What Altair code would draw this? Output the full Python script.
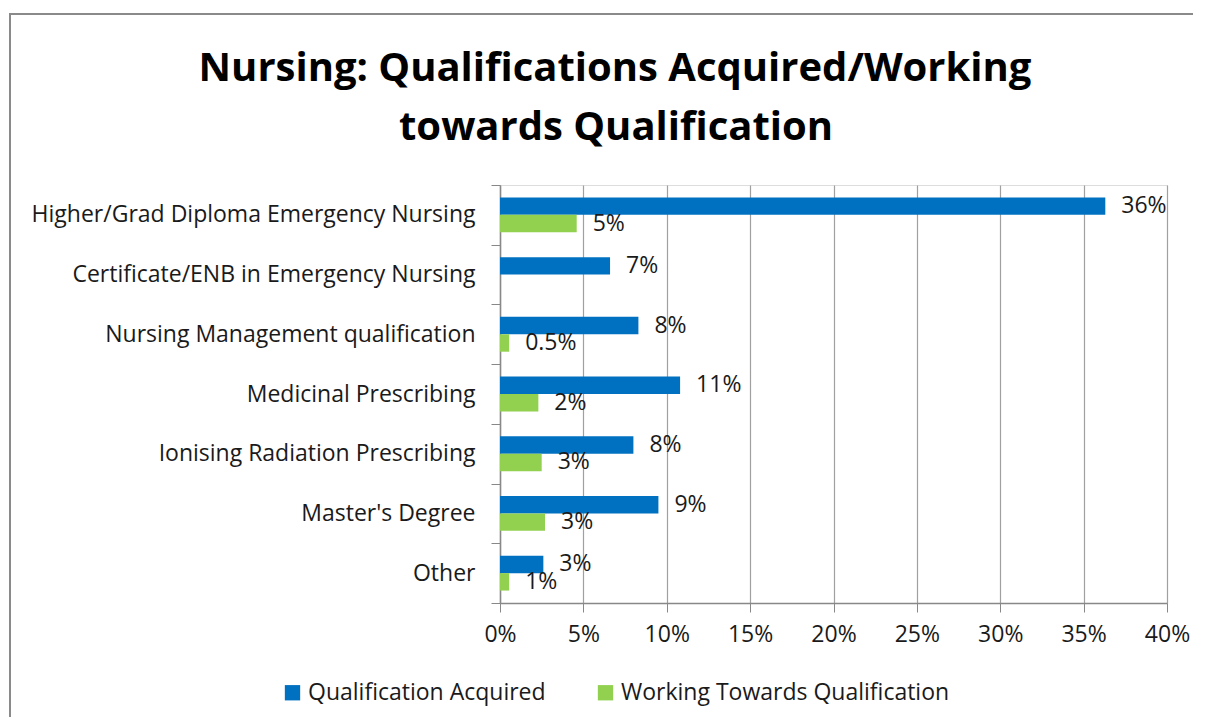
import altair as alt
import pandas as pd

title_lines = ["Nursing: Qualifications Acquired/Working", "towards Qualification"]
categories = [
    "Higher/Grad Diploma Emergency Nursing",
    "Certificate/ENB in Emergency Nursing",
    "Nursing Management qualification",
    "Medicinal Prescribing",
    "Ionising Radiation Prescribing\u00a0",
    "Master's Degree",
    "Other\u00a0",
]
series = ["Qualification Acquired", "Working Towards Qualification"]
acquired = [0.363, 0.066, 0.083, 0.108, 0.080, 0.095, 0.026]
acquired_labels = ["36%", "7%", "8%", "11%", "8%", "9%", "3%"]
working = [0.046, None, 0.0055, 0.023, 0.025, 0.027, 0.0055]
working_labels = ["5%", "", "0.5%", "2%", "3%", "3%", "1%"]
colors = ["#0070C0", "#92D050"]
x_ticks = [0, 0.05, 0.10, 0.15, 0.20, 0.25, 0.30, 0.35, 0.40]

rows = []
for c, a, al, w, wl in zip(categories, acquired, acquired_labels, working, working_labels):
    rows.append({"category": c, "series": series[0], "value": a, "label": al})
    if w is not None:
        rows.append({"category": c, "series": series[1], "value": w, "label": wl})
df = pd.DataFrame(rows)

FONT = "Open Sans"
FS = 23

y_enc = alt.Y(
    "category:N",
    sort=categories,
    scale=alt.Scale(paddingInner=0, paddingOuter=0),
    axis=alt.Axis(
        title=None,
        tickBand="extent",
        labelFontSize=FS,
        labelFont=FONT,
        labelColor="#1a1a1a",
        labelPadding=16,
        tickSize=9,
        tickColor="#888888",
        domainColor="#888888",
        domainWidth=1.5,
        grid=False,
        labelLimit=520,
    ),
)
yoff_enc = alt.YOffset(
    "series:N",
    sort=series,
    scale=alt.Scale(domain=series, paddingInner=0, paddingOuter=0.714),
)
x_enc = alt.X(
    "value:Q",
    scale=alt.Scale(domain=[0, 0.4], nice=False),
    axis=alt.Axis(
        title=None,
        values=x_ticks,
        format=".0%",
        labelFontSize=FS,
        labelFont=FONT,
        labelColor="#1a1a1a",
        labelPadding=11,
        labelFlush=False,
        tickSize=9,
        tickColor="#888888",
        domainColor="#888888",
        domainWidth=1.5,
        grid=True,
        gridColor="#a0a0a0",
        gridWidth=1.2,
    ),
)

base = alt.Chart(df)

bars = base.mark_bar().encode(
    x=x_enc,
    y=y_enc,
    yOffset=yoff_enc,
    color=alt.Color(
        "series:N",
        sort=series,
        scale=alt.Scale(domain=series, range=colors),
        legend=alt.Legend(
            title=None,
            orient="none",
            direction="horizontal",
            legendX=-219,
            legendY=496,
            symbolType="square",
            symbolSize=235,
            symbolStrokeWidth=0,
            labelFontSize=FS,
            labelFont=FONT,
            labelColor="#1a1a1a",
            labelOffset=4,
            columnPadding=48,
            labelLimit=520,
        ),
    ),
)

texts = base.mark_text(
    align="left", baseline="middle", dx=16, fontSize=FS, font=FONT, color="#1a1a1a"
).encode(
    x="value:Q",
    y=alt.Y("category:N", sort=categories),
    yOffset=alt.YOffset("series:N", sort=series),
    text="label:N",
)

frame = alt.Chart(pd.DataFrame({"f": [0]})).mark_rect(
    fill=None, stroke="#8a8a8a", strokeWidth=2
).encode(
    x=alt.value(-490), x2=alt.value(720), y=alt.value(-171), y2=alt.value(560)
)

title_style = dict(
    align="center", baseline="alphabetic", fontSize=40, font=FONT,
    fontWeight="bold", color="#000000",
)
title1 = alt.Chart(pd.DataFrame({"t": [title_lines[0]]})).mark_text(**title_style).encode(
    x=alt.value(115), y=alt.value(-104), text="t:N"
)
title2 = alt.Chart(pd.DataFrame({"t": [title_lines[1]]})).mark_text(**title_style).encode(
    x=alt.value(116), y=alt.value(-45), text="t:N"
)

chart = (
    alt.layer(frame, title1, title2, bars, texts)
    .resolve_scale(x="shared", y="shared")
    .properties(
        width=667,
        height=418,
        padding={"left": 492, "top": 177, "right": 26, "bottom": 114},
        autosize=alt.AutoSizeParams(type="none"),
    )
    .configure_view(stroke=None)
    .configure(background="white")
)

chart.save("out.html", embed_options={"renderer": "svg", "actions": False})
